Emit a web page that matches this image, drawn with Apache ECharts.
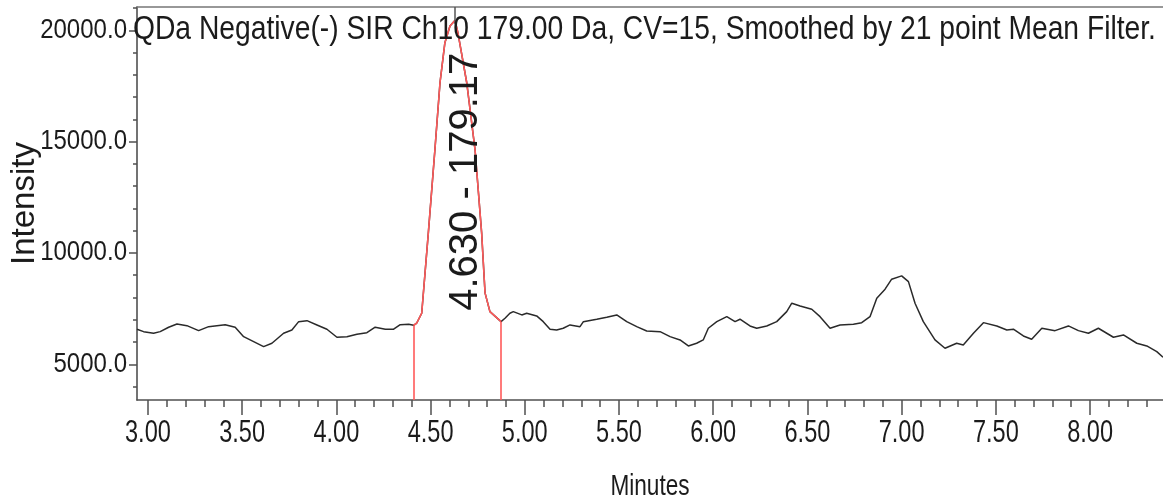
<!DOCTYPE html>
<html>
<head>
<meta charset="utf-8">
<script src="https://cdn.jsdelivr.net/npm/echarts@6/dist/echarts.min.js"></script>
<style>
html,body{margin:0;padding:0;background:#fff;}
#chart{width:1163px;height:504px;}
</style>
</head>
<body>
<div id="chart"></div>
<script>
// ---- data ----
const titleText = 'QDa Negative(-) SIR Ch10 179.00 Da, CV=15, Smoothed by 21 point Mean Filter.';
const xAxisTitle = 'Minutes';
const yAxisTitle = 'Intensity';
const times = [2.942, 2.977, 3.030, 3.065, 3.110, 3.154, 3.207, 3.269, 3.322, 3.366,
  3.410, 3.463, 3.508, 3.561, 3.614, 3.658, 3.720, 3.764, 3.800, 3.844,
  3.897, 3.950, 4.003, 4.056, 4.109, 4.162, 4.206, 4.260, 4.304, 4.339,
  4.384, 4.410, 4.426, 4.453, 4.488, 4.523, 4.550, 4.576, 4.603, 4.630,
  4.645, 4.692, 4.736, 4.771, 4.789, 4.815, 4.874, 4.895, 4.921, 4.939,
  4.984, 5.010, 5.063, 5.098, 5.134, 5.169, 5.204, 5.240, 5.293, 5.311,
  5.382, 5.435, 5.488, 5.541, 5.594, 5.647, 5.718, 5.771, 5.824, 5.868,
  5.912, 5.947, 5.974, 6.019, 6.072, 6.116, 6.142, 6.195, 6.231, 6.284,
  6.337, 6.390, 6.417, 6.461, 6.523, 6.567, 6.620, 6.673, 6.744, 6.788,
  6.832, 6.868, 6.912, 6.947, 7.000, 7.036, 7.071, 7.115, 7.177, 7.230,
  7.292, 7.327, 7.381, 7.434, 7.505, 7.558, 7.593, 7.646, 7.690, 7.744,
  7.814, 7.885, 7.938, 7.991, 8.044, 8.124, 8.177, 8.248, 8.301, 8.354,
  8.387];
const intensity = [6574, 6466, 6394, 6466, 6664, 6812, 6735, 6511, 6690, 6735,
  6780, 6664, 6241, 6016, 5791, 5944, 6394, 6542, 6915, 6960,
  6767, 6574, 6214, 6241, 6349, 6421, 6664, 6574, 6574, 6780,
  6798, 6753, 6843, 7293, 10890, 14635, 17647, 19446, 20200, 20450,
  19896, 17647, 14635, 10903, 8206, 7365, 6915, 7068, 7293, 7365,
  7217, 7293, 7172, 6915, 6574, 6542, 6619, 6767, 6690, 6915,
  7023, 7113, 7217, 6915, 6690, 6497, 6466, 6241, 6093, 5823,
  5944, 6093, 6619, 6915, 7140, 6915, 7023, 6722, 6619, 6722,
  6915, 7365, 7743, 7621, 7473, 7140, 6619, 6767, 6798, 6870,
  7140, 7967, 8372, 8822, 8970, 8714, 7743, 6915, 6093, 5719,
  5944, 5868, 6394, 6870, 6722, 6542, 6574, 6272, 6124, 6619,
  6511, 6722, 6511, 6394, 6619, 6214, 6317, 5944, 5823, 5566,
  5315];
const peakStart = 4.410;
const peakEnd = 4.874;
const peakApex = 4.630;
const peakLabel = '4.630 - 179.17';
const peakLabelAt = [4.688, 13200];
const xMin = 2.942, xMax = 8.387;
const yMin = 3395, yMax = 21050;
const xMajorTicks = [3.0, 3.5, 4.0, 4.5, 5.0, 5.5, 6.0, 6.5, 7.0, 7.5, 8.0];
const xTickLabels = ['3.00', '3.50', '4.00', '4.50', '5.00', '5.50', '6.00', '6.50', '7.00', '7.50', '8.00'];
const xMinorTicks = [3.0,3.1,3.2,3.3,3.4,3.5,3.6,3.7,3.8,3.9,4.0,4.1,4.2,4.3,4.4,4.5,4.6,4.7,4.8,4.9,5.0,5.1,5.2,5.3,5.4,5.5,5.6,5.7,5.8,5.9,6.0,6.1,6.2,6.3,6.4,6.5,6.6,6.7,6.8,6.9,7.0,7.1,7.2,7.3,7.4,7.5,7.6,7.7,7.8,7.9,8.0,8.1,8.2,8.3];
const yMajorTicks = [5000, 10000, 15000, 20000];
const yTickLabels = ['5000.0', '10000.0', '15000.0', '20000.0'];
const yMinorTicks = [4000,5000,6000,7000,8000,9000,10000,11000,12000,13000,14000,15000,16000,17000,18000,19000,20000,21000];

// ---- build ----
const mainData = times.map((t, i) => [t, intensity[i]]);
const peakData = mainData.filter(d => d[0] >= peakStart - 1e-9 && d[0] <= peakEnd + 1e-9);
const startVal = peakData[0][1];
const endVal = peakData[peakData.length - 1][1];

const FONT = '"Liberation Sans", Arial, sans-serif';
const axisColor = '#505050';
const textColor = '#1b1b1b';

const chart = echarts.init(document.getElementById('chart'), null, {renderer: 'canvas'});
chart.setOption({
  animation: false,
  backgroundColor: '#fff',
  grid: {left: 137, right: 0, top: 7, bottom: 104, containLabel: false, outerBoundsMode: 'none'},
  xAxis: [
    {
      type: 'value', position: 'bottom', min: xMin, max: xMax,
      splitLine: {show: false},
      axisLine: {show: true, onZero: false, lineStyle: {color: axisColor, width: 1.6}},
      axisTick: {show: true, customValues: xMajorTicks, length: 15, lineStyle: {color: axisColor, width: 1.5}},
      axisLabel: {show: false}
    },
    {
      type: 'value', position: 'bottom', min: xMin, max: xMax,
      splitLine: {show: false},
      axisLine: {show: false, onZero: false},
      axisTick: {show: true, customValues: xMinorTicks, length: 7, lineStyle: {color: axisColor, width: 1.5}},
      axisLabel: {show: false}
    },
    {
      type: 'value', position: 'top', min: xMin, max: xMax,
      splitLine: {show: false},
      axisLine: {show: true, onZero: false, lineStyle: {color: '#777', width: 1.5}},
      axisTick: {show: false}, axisLabel: {show: false}
    }
  ],
  yAxis: [
    {
      type: 'value', position: 'left', min: yMin, max: yMax,
      name: yAxisTitle, nameLocation: 'middle', nameGap: 96, nameRotate: 90,
      nameTextStyle: {fontFamily: FONT, fontSize: 33, color: textColor},
      splitLine: {show: false},
      axisLine: {show: true, onZero: false, lineStyle: {color: axisColor, width: 1.6}},
      axisTick: {show: true, customValues: yMajorTicks, length: 8, lineStyle: {color: axisColor, width: 1.5}},
      axisLabel: {show: false}
    },
    {
      type: 'value', position: 'left', min: yMin, max: yMax,
      splitLine: {show: false},
      axisLine: {show: false, onZero: false},
      axisTick: {show: true, customValues: yMinorTicks, length: 4, lineStyle: {color: axisColor, width: 1.5}},
      axisLabel: {show: false}
    }
  ],
  series: [
    {
      type: 'line', xAxisIndex: 0, yAxisIndex: 0, data: mainData,
      showSymbol: false, smooth: false,
      lineStyle: {color: '#2a2a2a', width: 1.5}, z: 2,
      markLine: {
        silent: true, symbol: 'none', label: {show: false},
        lineStyle: {color: '#555', width: 1.5, type: 'solid'},
        data: [[{coord: [peakApex, 20300]}, {coord: [peakApex, yMax]}]]
      }
    },
    {
      type: 'line', xAxisIndex: 0, yAxisIndex: 0, data: peakData,
      showSymbol: false, smooth: false,
      lineStyle: {color: '#ff5a5a', width: 1.6}, z: 3,
      markLine: {
        silent: true, symbol: 'none', label: {show: false},
        lineStyle: {color: '#ff5a5a', width: 1.6, type: 'solid'},
        data: [
          [{coord: [peakStart, yMin]}, {coord: [peakStart, startVal]}],
          [{coord: [peakEnd, yMin]}, {coord: [peakEnd, endVal]}]
        ]
      },
      markPoint: {
        symbol: 'circle', symbolSize: 0, silent: true,
        data: [{coord: peakLabelAt}],
        label: {show: true, formatter: peakLabel, position: 'inside', rotate: 90,
          fontFamily: FONT, fontSize: 40, color: textColor}
      }
    }
  ]
});

// tick labels, axis title and chart title as condensed text, placed through the axes' own scales
const xPix = v => chart.convertToPixel({xAxisIndex: 0}, v);
const yPix = v => chart.convertToPixel({yAxisIndex: 0}, v);
const axisBottom = yPix(yMin);
const axisLeft = xPix(xMin);
const axisRight = xPix(xMax);
const g = [];
xMajorTicks.forEach((v, i) => g.push({
  type: 'text', x: xPix(v), y: axisBottom + 33, scaleX: 0.76, silent: true,
  style: {text: xTickLabels[i], font: '31px ' + FONT, fill: textColor, align: 'center', verticalAlign: 'middle'}
}));
yMajorTicks.forEach((v, i) => g.push({
  type: 'text', x: axisLeft - 10, y: yPix(v), scaleX: 0.89, silent: true,
  style: {text: yTickLabels[i], font: '27px ' + FONT, fill: textColor, align: 'right', verticalAlign: 'middle'}
}));
g.push({
  type: 'text', x: (axisLeft + axisRight) / 2, y: axisBottom + 87, scaleX: 0.78, silent: true,
  style: {text: xAxisTitle, font: '29px ' + FONT, fill: textColor, align: 'center', verticalAlign: 'middle'}
});
g.push({
  type: 'text', x: axisLeft - 4, y: yPix(20000), scaleX: 0.856, silent: true, z: 10,
  style: {text: titleText, font: '33px ' + FONT, fill: textColor, align: 'left', verticalAlign: 'middle'}
});
chart.setOption({graphic: g});
</script>
</body>
</html>
